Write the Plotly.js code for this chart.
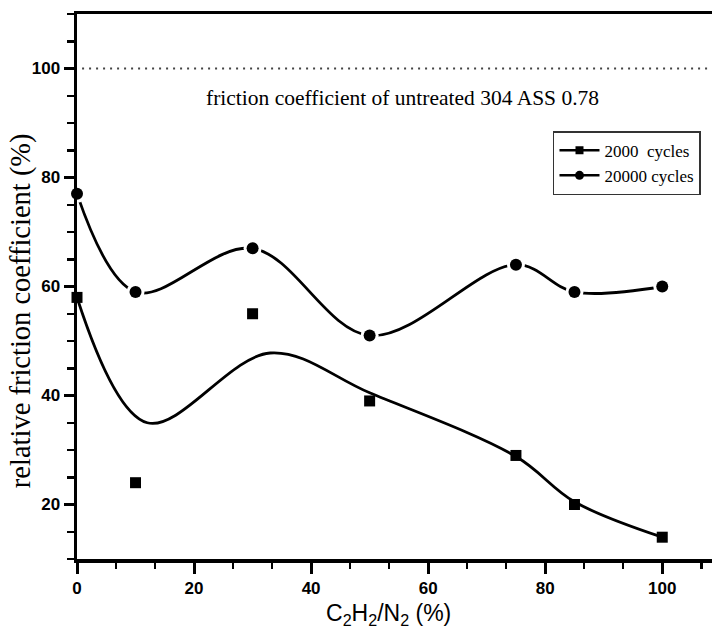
<!DOCTYPE html>
<html>
<head>
<meta charset="utf-8">
<script src="https://cdn.plot.ly/plotly-3.0.1.min.js"></script>
<style>
  html, body { margin: 0; padding: 0; background: #fff; }
  #chart { width: 712px; height: 638px; }
</style>
</head>
<body>
<div id="chart"></div>
<script>
// Data
const ratioX = [0, 10, 30, 50, 75, 85, 100];            // C2H2/N2 (%)
const cycles2000 = [58, 24, 55, 39, 29, 20, 14];        // relative friction coefficient (%)
const cycles20000 = [77, 59, 67, 51, 64, 59, 60];
// fitted curve for 2000 cycles
const fit2000X = [0, 12, 33, 50, 75, 85, 100];
const fit2000Y = [58, 35, 47.8, 40.5, 28.8, 20.5, 14];
const xTickVals = [0, 20, 40, 60, 80, 100];
const yTickVals = [20, 40, 60, 80, 100];
const untreatedLevel = 100;
const legendNames = ['2000\u00a0\u00a0cycles', '20000 cycles'];
const noteText = 'friction coefficient of untreated 304 ASS 0.78';

const serif = '"Liberation Serif", "Times New Roman", serif';
const sans = '"Liberation Sans", Arial, sans-serif';

const traces = [
  { x: fit2000X, y: fit2000Y, mode: 'lines', line: { color: '#000', width: 2.8, shape: 'spline', smoothing: 1 },
    showlegend: false, hoverinfo: 'skip', cliponaxis: false },
  { x: ratioX, y: cycles2000, mode: 'markers', marker: { symbol: 'square', size: 11, color: '#000' },
    showlegend: false, cliponaxis: false },
  { x: ratioX, y: cycles20000, mode: 'lines', line: { color: '#000', width: 2.8, shape: 'spline', smoothing: 1 },
    showlegend: false, hoverinfo: 'skip', cliponaxis: false },
  { x: ratioX, y: cycles20000, mode: 'markers', marker: { symbol: 'circle', size: 18, color: '#fff' },
    showlegend: false, hoverinfo: 'skip', cliponaxis: false },
  { x: ratioX, y: cycles20000, mode: 'markers', marker: { symbol: 'circle', size: 12, color: '#000' },
    showlegend: false, cliponaxis: false },
  { x: [null], y: [null], name: legendNames[0], mode: 'lines+markers',
    line: { color: '#000', width: 2.5 }, marker: { symbol: 'square', size: 8, color: '#000' } },
  { x: [null], y: [null], name: legendNames[1], mode: 'lines+markers',
    line: { color: '#000', width: 2.5 }, marker: { symbol: 'circle', size: 9, color: '#000' } }
];

const layout = {
  width: 712, height: 638,
  margin: { l: 77, r: 0, t: 14, b: 79, pad: 0 },
  paper_bgcolor: '#fff', plot_bgcolor: '#fff',
  showlegend: true,
  xaxis: {
    range: [0, 108.5], showgrid: false, zeroline: false,
    showline: true, linecolor: '#000', linewidth: 3.5, mirror: true,
    tickvals: xTickVals, ticktext: xTickVals.map(String),
    ticks: 'outside', ticklen: 11, tickwidth: 3, tickcolor: '#000',
    tickfont: { family: sans, size: 17, color: '#000', weight: 'bold' },
    minor: { dtick: 20 / 3, tick0: 0, ticks: 'outside', ticklen: 6, tickwidth: 2.5, tickcolor: '#000', showgrid: false },
    fixedrange: true
  },
  yaxis: {
    range: [10, 110], showgrid: false, zeroline: false,
    showline: true, linecolor: '#000', linewidth: 3.5,
    tickvals: yTickVals, ticktext: yTickVals.map(String),
    ticks: 'outside', ticklen: 10, tickwidth: 3, tickcolor: '#000',
    tickfont: { family: sans, size: 17, color: '#000', weight: 'bold' },
    ticklabelstandoff: 0,
    minor: { dtick: 5, tick0: 0, ticks: 'outside', ticklen: 7, tickwidth: 2.5, tickcolor: '#000', showgrid: false },
    fixedrange: true
  },
  legend: {
    x: 0.7496, y: 0.785, xanchor: 'left', yanchor: 'top',
    bgcolor: '#fff', bordercolor: '#333', borderwidth: 1.5,
    font: { family: serif, size: 17, color: '#000' },
    itemwidth: 40, tracegroupgap: 0
  },
  shapes: [
    { type: 'line', xref: 'paper', x0: 0.008, x1: 1, yref: 'y', y0: untreatedLevel, y1: untreatedLevel,
      line: { color: '#444', width: 2, dash: '2px,5px' } }
  ],
  annotations: [
    { text: noteText, xref: 'x', yref: 'y', x: 55.6, y: 94.5, showarrow: false,
      xanchor: 'center', yanchor: 'middle', font: { family: serif, size: 21.5, color: '#000' } },
    { text: 'relative friction coefficient (%)', xref: 'paper', yref: 'paper', x: -0.088, y: 0.455,
      textangle: -90, showarrow: false, xanchor: 'center', yanchor: 'middle',
      font: { family: serif, size: 28.5, color: '#000' } },
    { text: 'C<sub>2</sub>H<sub>2</sub>/N<sub>2</sub> (%)', xref: 'paper', yref: 'paper', x: 0.49, y: -0.072,
      showarrow: false, xanchor: 'center', yanchor: 'top',
      font: { family: sans, size: 23, color: '#000' } }
  ]
};

Plotly.newPlot('chart', traces, layout, { displayModeBar: false, staticPlot: true });
</script>
</body>
</html>
